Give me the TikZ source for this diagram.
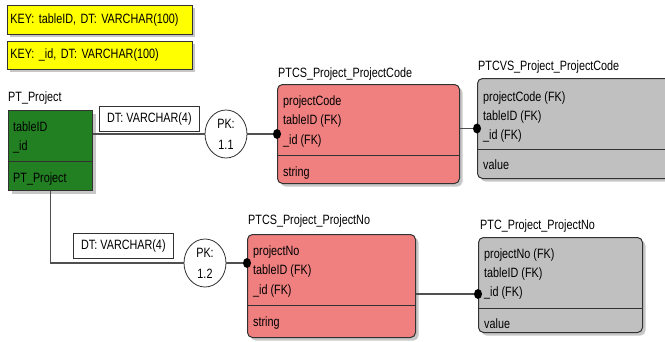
\documentclass[tikz,border=0pt]{standalone}
\usepackage{fontspec}
\setmainfont{Liberation Sans}[FakeStretch=0.8]
\usetikzlibrary{shapes.geometric,shadows}
\definecolor{keyy}{RGB}{255,255,0}
\definecolor{pgreen}{RGB}{34,128,34}
\definecolor{psalmon}{RGB}{240,128,128}
\definecolor{pgray}{RGB}{192,192,192}
\definecolor{pborder}{RGB}{50,50,50}
\definecolor{pline}{RGB}{80,80,80}
\tikzset{
  shad/.style={drop shadow={shadow xshift=3pt,shadow yshift=-3pt,fill=black!22,opacity=1}},
  entity/.style={draw=pborder, line width=1pt, rounded corners=5pt, anchor=north west, inner sep=0pt, shad},
  sqentity/.style={draw=pborder, line width=1pt, anchor=north west, inner sep=0pt, shad},
  keybox/.style={draw=pborder, line width=0.8pt, fill=keyy, anchor=north west, inner xsep=3pt, inner ysep=0pt, align=left, shad},
  dtbox/.style={draw=pborder, line width=0.8pt, fill=white, anchor=north west, inner sep=0pt, align=center},
  pkcirc/.style={ellipse, draw=pborder, line width=0.8pt, fill=white, minimum width=42pt, minimum height=48pt, inner sep=0pt, align=center, font=\fontsize{13.5}{21}\selectfont},
  fld/.style={anchor=base west, inner sep=0pt},
  ttl/.style={anchor=base west, inner sep=0pt},
  divl/.style={draw=pborder, line width=1pt},
  conn/.style={draw=pline, line width=1.2pt},
  every node/.style={font=\fontsize{13.5}{19}\selectfont}
}
\begin{document}
\begin{tikzpicture}[x=1pt,y=-1pt]
\useasboundingbox (0,0) rectangle (665,341);

% key boxes
\node[keybox, minimum width=185pt, minimum height=29pt, text width=179pt] (k1) at (7,5) {KEY: tableID, DT: VARCHAR(100)};
\node[keybox, minimum width=185pt, minimum height=28pt, text width=179pt] (k2) at (7,41) {KEY: \_id, DT: VARCHAR(100)};

% PT_Project
\node[ttl] (t0) at (8,101.5) {PT\_Project};
\node[sqentity, fill=pgreen, minimum width=84pt, minimum height=80pt] (green) at (8,110) {};
\draw[divl] (green.west |- 0,161) -- (green.east |- 0,161);
\node[fld] (g1) at (13,131) {tableID};
\node[fld] (g2) at (13,150) {\_id};
\node[fld] (g3) at (13,182) {PT\_Project};

% PTCS_Project_ProjectCode
\node[ttl] (t1) at (278,77.5) {PTCS\_Project\_ProjectCode};
\node[entity, fill=psalmon, minimum width=182pt, minimum height=99pt] (ptcs) at (277,84) {};
\draw[divl] (ptcs.west |- 0,155) -- (ptcs.east |- 0,155);
\node[fld] (a1) at (283,105) {projectCode};
\node[fld] (a2) at (283,124.5) {tableID (FK)};
\node[fld] (a3) at (283,144) {\_id (FK)};
\node[fld] (a4) at (283,176) {string};

% PTCVS_Project_ProjectCode
\node[ttl] (t2) at (478,70.5) {PTCVS\_Project\_ProjectCode};
\node[entity, fill=pgray, minimum width=200pt, minimum height=100pt] (ptcvs) at (477,78) {};
\draw[divl] (ptcvs.west |- 0,149) -- (ptcvs.east |- 0,149);
\node[fld] (b1) at (483,101) {projectCode (FK)};
\node[fld] (b2) at (483,120) {tableID (FK)};
\node[fld] (b3) at (483,139) {\_id (FK)};
\node[fld] (b4) at (483,169) {value};

% PTCS_Project_ProjectNo
\node[ttl] (t3) at (248,224) {PTCS\_Project\_ProjectNo};
\node[entity, fill=psalmon, minimum width=168pt, minimum height=103pt] (ptcsno) at (247,234) {};
\draw[divl] (ptcsno.west |- 0,305) -- (ptcsno.east |- 0,305);
\node[fld] (c1) at (253,255) {projectNo};
\node[fld] (c2) at (253,274.5) {tableID (FK)};
\node[fld] (c3) at (253,294) {\_id (FK)};
\node[fld] (c4) at (253,326) {string};

% PTC_Project_ProjectNo
\node[ttl] (t4) at (480,229) {PTC\_Project\_ProjectNo};
\node[entity, fill=pgray, minimum width=164pt, minimum height=95pt] (ptc) at (478,237) {};
\draw[divl] (ptc.west |- 0,308) -- (ptc.east |- 0,308);
\node[fld] (d1) at (484,258.5) {projectNo (FK)};
\node[fld] (d2) at (484,277) {tableID (FK)};
\node[fld] (d3) at (484,296.5) {\_id (FK)};
\node[fld] (d4) at (484,328) {value};

% PK circles and DT labels
\node[pkcirc] (pk1) at (226,134) {PK:\\1.1};
\node[pkcirc] (pk2) at (205,263) {PK:\\1.2};
\node[dtbox, minimum width=100pt, minimum height=25pt] (dt1) at (99,106) {DT: VARCHAR(4)};
\node[dtbox, minimum width=100pt, minimum height=25pt] (dt2) at (73,233) {DT: VARCHAR(4)};

% connectors
\draw[conn] (pk1.west -| green.east) -- (pk1.west);
\draw[conn] (pk1.east) -- (pk1.east -| ptcs.west);
\draw[conn] (ptcvs.west -| ptcs.east) -- (ptcvs.west);
\draw[conn] (green.south) |- (pk2.west);
\draw[conn] (pk2.east) -- (pk2.east -| ptcsno.west);
\coordinate (r2) at ([yshift=-8pt]ptcsno.east);
\draw[conn] (r2) -- (r2 -| ptc.west);

% dots
\fill (pk1.east -| ptcs.west) ellipse (4 and 5);
\fill (ptcvs.west) ellipse (4 and 5);
\fill (pk2.east -| ptcsno.west) ellipse (4 and 5);
\fill (r2 -| ptc.west) ellipse (4 and 5);
\end{tikzpicture}
\end{document}
